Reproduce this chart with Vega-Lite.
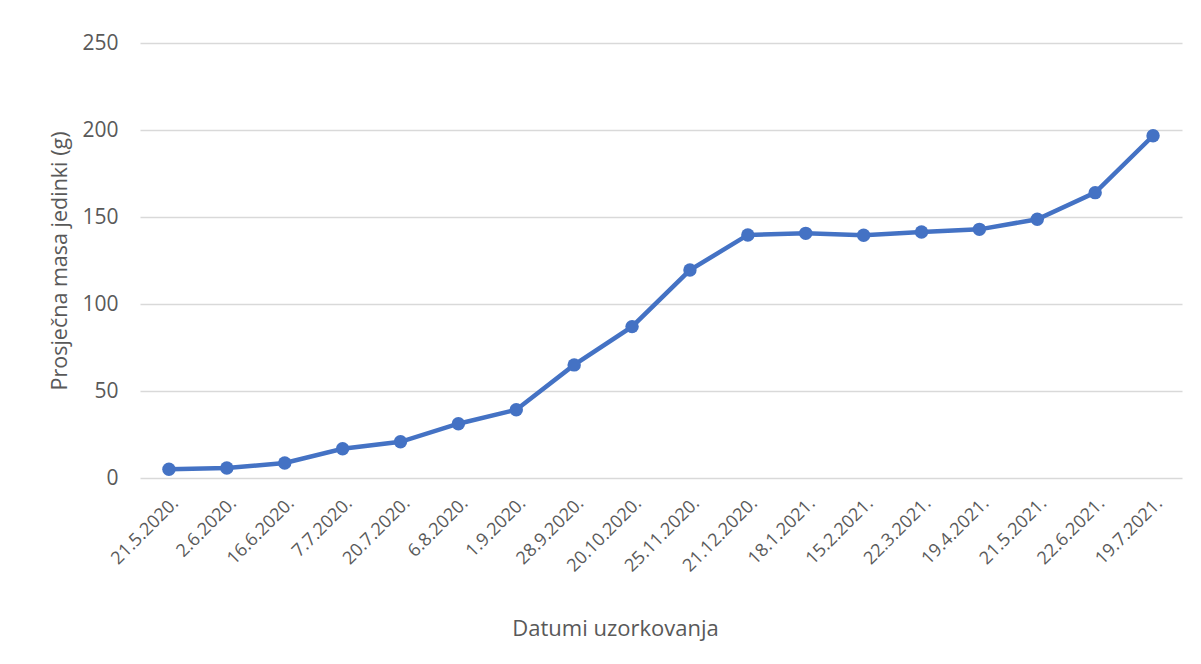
{
  "$schema": "https://vega.github.io/schema/vega-lite/v6.json",
  "width": 1042,
  "height": 435,
  "autosize": {"type": "none"},
  "padding": {"left": 140, "top": 43, "right": 19, "bottom": 186},
  "background": "white",
  "config": {
    "view": {"stroke": null},
    "font": "Open Sans",
    "axis": {"labelFont": "Open Sans", "titleFont": "Open Sans", "labelColor": "#595959", "titleColor": "#595959", "titleFontWeight": "normal"}
  },
  "data": {
    "values": [
      {"datum": "21.5.2020.", "masa": 5.0},
      {"datum": "2.6.2020.", "masa": 5.7},
      {"datum": "16.6.2020.", "masa": 8.6},
      {"datum": "7.7.2020.", "masa": 16.8},
      {"datum": "20.7.2020.", "masa": 20.8},
      {"datum": "6.8.2020.", "masa": 31.2},
      {"datum": "1.9.2020.", "masa": 39.2},
      {"datum": "28.9.2020.", "masa": 65.0},
      {"datum": "20.10.2020.", "masa": 87.0},
      {"datum": "25.11.2020.", "masa": 119.5},
      {"datum": "21.12.2020.", "masa": 139.7},
      {"datum": "18.1.2021.", "masa": 140.6},
      {"datum": "15.2.2021.", "masa": 139.5},
      {"datum": "22.3.2021.", "masa": 141.4},
      {"datum": "19.4.2021.", "masa": 142.9},
      {"datum": "21.5.2021.", "masa": 148.7},
      {"datum": "22.6.2021.", "masa": 164.0},
      {"datum": "19.7.2021.", "masa": 196.7}
    ]
  },
  "encoding": {
    "x": {
      "field": "datum", "type": "ordinal", "sort": null,
      "scale": {"type": "point", "padding": 0.5},
      "axis": {
        "title": "Datumi uzorkovanja",
        "titleFontSize": 22,
        "titleX": 475,
        "titleY": 140,
        "titleAnchor": "middle",
        "labelAngle": -45,
        "labelFontSize": 18,
        "labelPadding": 16,
        "labelDx": -4,
        "ticks": false,
        "domain": false,
        "grid": false
      }
    },
    "y": {
      "field": "masa", "type": "quantitative",
      "scale": {"domain": [0, 250], "nice": false},
      "axis": {
        "title": "Prosječna masa jedinki (g)",
        "titleFontSize": 21.5,
        "titlePadding": 10,
        "values": [0, 50, 100, 150, 200, 250],
        "labelFontSize": 21,
        "labelPadding": 22,
        "ticks": false,
        "domain": false,
        "gridColor": "#d9d9d9",
        "gridWidth": 1.3
      }
    }
  },
  "layer": [
    {"mark": {"type": "line", "color": "#4472C4", "strokeWidth": 4.5}},
    {"mark": {"type": "point", "filled": true, "opacity": 1, "color": "#4472C4", "size": 180}}
  ]
}
